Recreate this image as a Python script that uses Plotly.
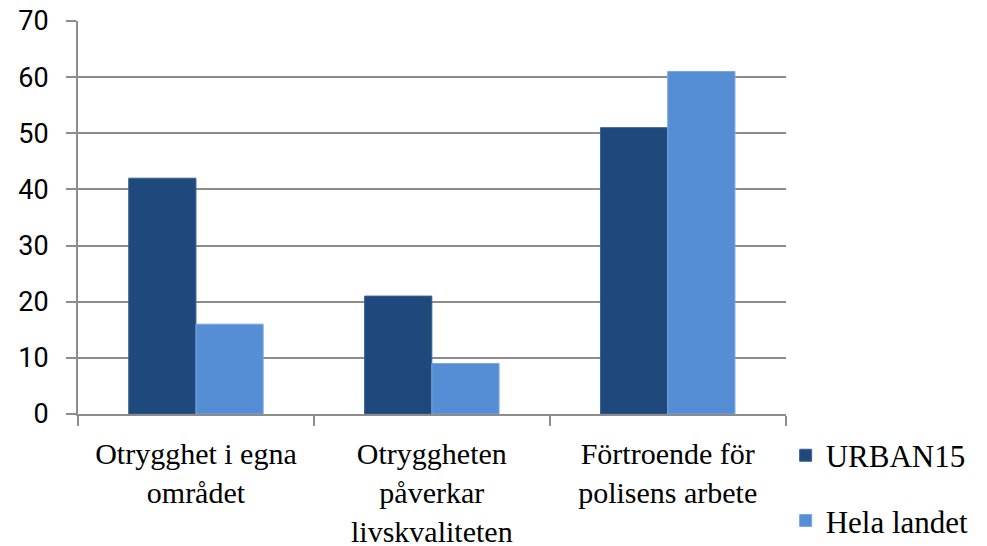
import plotly.graph_objects as go

categories = ["Otrygghet i egna<br>området", "Otryggheten<br>påverkar<br>livskvaliteten", "Förtroende för<br>polisens arbete"]
urban15 = [42, 21, 51]
hela_landet = [16, 9, 61]
series_names = ["URBAN15", "Hela landet"]
y_ticks = [0, 10, 20, 30, 40, 50, 60, 70]

serif = "Liberation Serif"
sans = "Roboto"
grid = "#8c8c8c"

fig = go.Figure()
fig.add_bar(x=categories, y=urban15, name=series_names[0], marker=dict(color="#1F497D", line=dict(color="#3a6190", width=1)), legendgroup="a")
fig.add_bar(x=categories, y=hela_landet, name=series_names[1], marker=dict(color="#558ED5", line=dict(color="#7aa7e0", width=1)), legendgroup="b")

fig.update_layout(
    width=987, height=546,
    margin=dict(l=78, r=195, t=21, b=132),
    paper_bgcolor="white", plot_bgcolor="white",
    barmode="group", bargap=0.43, bargroupgap=0,
    showlegend=True,
    legend=dict(xref="container", yref="container", x=0.796, y=0.215, xanchor="left", yanchor="top",
                font=dict(family=serif, size=31, color="black"),
                tracegroupgap=22, itemwidth=30),
    xaxis=dict(tickfont=dict(family=serif, size=30, color="black"),
               showline=True, linecolor=grid, linewidth=2,
               ticks="outside", tickson="boundaries", ticklen=10, tickcolor=grid, tickwidth=2,
               ticklabelstandoff=12, showgrid=False, automargin=False),
    yaxis=dict(range=[0, 70], tickvals=y_ticks, showgrid=True, gridcolor=grid, gridwidth=2,
               tickfont=dict(family=sans, size=27, color="black"),
               showline=True, linecolor=grid, linewidth=2,
               ticks="outside", ticklen=10, tickcolor=grid, tickwidth=2,
               ticklabelstandoff=12, zeroline=False, automargin=False),
)
fig.write_html("out.html", config={"displayModeBar": False},
               post_script="document.body.style.margin='0';document.body.style.overflow='hidden';")
